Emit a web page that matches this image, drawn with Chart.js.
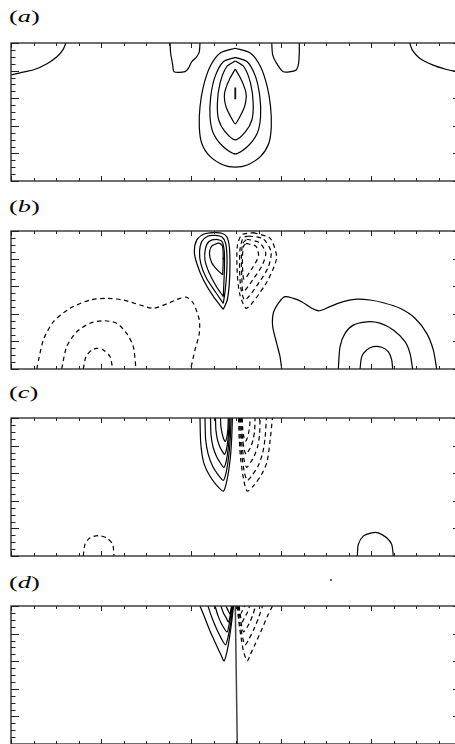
<!DOCTYPE html>
<html><head><meta charset="utf-8">
<script src="https://cdn.jsdelivr.net/npm/chart.js@4.4.1/dist/chart.umd.min.js"></script>
<style>
body{margin:0;width:455px;height:744px;overflow:hidden;background:#fff;position:relative}
canvas{position:absolute}
.lab{position:absolute;left:9px;font-family:"Liberation Serif","Times New Roman",serif;font-size:17px;line-height:17px;color:#000;white-space:nowrap;transform:scaleX(1.55);transform-origin:0 50%}
.dot{position:absolute;left:330px;top:579px;width:2px;height:2px;background:#666}
</style></head>
<body>
<div class="lab" style="top:8px">(<i>a</i>)</div>
<div class="lab" style="top:198px">(<i>b</i>)</div>
<div class="lab" style="top:384px">(<i>c</i>)</div>
<div class="lab" style="top:574px">(<i>d</i>)</div>
<div class="dot"></div>
<canvas id="pa" width="452" height="140" style="left:10px;top:42px"></canvas>
<canvas id="pb" width="452" height="140" style="left:10px;top:230px"></canvas>
<canvas id="pc" width="452" height="140" style="left:10px;top:417px"></canvas>
<canvas id="pd" width="452" height="140" style="left:10px;top:605px"></canvas>
<script>
// ---- axis tick values (no tick labels in the figure) ----
const xTicks = [0,0.25,0.5,0.75,1,1.25,1.5,1.75,2,2.25,2.5,2.75,3,3.25,3.5,3.75,4,4.25,4.5,4.75,5];
const yTicks = [0,0.25,0.5,0.75,1,1.25,1.5,1.75,2,2.25,2.5,2.75,3,3.25,3.5,3.75,4,4.25,4.5,4.75,5];
const xRange = [0,5];
const yRange = [0,5];

// ---- panel (a) contours ----
const aCornerL = [[0,3.84],[0.10,3.92],[0.26,4.04],[0.40,4.25],[0.51,4.50],[0.58,4.77],[0.61,5.0]];
const aCornerR = [[4.43,5.0],[4.46,4.74],[4.54,4.45],[4.69,4.20],[4.84,4.04],[4.91,3.99],[5.0,3.97]];
const aCapL = [[1.767,5.0],[1.774,4.63],[1.797,4.20],[1.811,3.96],[1.933,3.96],[1.97,4.08],[2.008,4.32],[2.063,4.50],[2.092,4.68],[2.10,5.0]];
const aCapR = [[2.897,5.0],[2.908,4.56],[2.952,4.26],[3.026,3.96],[3.156,4.0],[3.192,4.2],[3.203,4.63],[3.203,5.0]];
const aRing1 = [[2.492,4.81],[2.322,4.63],[2.211,4.14],[2.137,3.42],[2.10,2.69],[2.092,1.97],[2.119,1.37],[2.211,0.89],[2.359,0.58],[2.492,0.50],[2.625,0.58],[2.773,0.89],[2.865,1.37],[2.892,1.97],[2.884,2.69],[2.847,3.42],[2.773,4.14],[2.662,4.63],[2.492,4.81]];
const aRing2 = [[2.492,4.48],[2.359,4.32],[2.267,3.78],[2.219,3.05],[2.211,2.33],[2.248,1.73],[2.359,1.24],[2.492,0.98],[2.625,1.24],[2.736,1.73],[2.773,2.33],[2.765,3.05],[2.717,3.78],[2.625,4.32],[2.492,4.48]];
const aRing3 = [[2.492,4.35],[2.396,4.14],[2.322,3.54],[2.293,2.82],[2.308,2.21],[2.378,1.79],[2.492,1.49],[2.606,1.79],[2.676,2.21],[2.691,2.82],[2.662,3.54],[2.588,4.14],[2.492,4.35]];
const aRing4 = [[2.492,4.06],[2.433,3.72],[2.381,3.30],[2.37,3.05],[2.389,2.69],[2.441,2.33],[2.492,2.07],[2.543,2.33],[2.595,2.69],[2.614,3.05],[2.603,3.30],[2.551,3.72],[2.492,4.06]];
const aCore = [[2.492,3.39],[2.492,2.96]];

// ---- panel (b) contours ----
const bNegOuter = [[0.286,0],[0.359,1.05],[0.470,1.71],[0.656,2.20],[0.878,2.50],[1.063,2.56],[1.248,2.50],[1.433,2.32],[1.581,2.20],[1.730,2.36],[1.878,2.56],[1.952,2.60],[2.026,2.38],[2.092,1.78],[2.092,1.29],[2.044,0.69],[1.997,0]];
const bNegMid = [[0.563,0],[0.619,0.81],[0.730,1.35],[0.878,1.66],[1.026,1.75],[1.174,1.66],[1.286,1.29],[1.359,0.81],[1.389,0]];
const bNegInner = [[0.803,0],[0.833,0.45],[0.897,0.69],[0.952,0.75],[1.026,0.69],[1.10,0.45],[1.13,0]];
const bPosOuter = [[3.008,0],[2.989,0.45],[2.952,0.93],[2.908,1.53],[2.914,2.02],[2.970,2.38],[3.044,2.62],[3.137,2.56],[3.230,2.44],[3.341,2.20],[3.426,2.11],[3.544,2.26],[3.692,2.44],[3.841,2.53],[3.989,2.50],[4.137,2.40],[4.322,2.20],[4.489,1.84],[4.619,1.29],[4.692,0.69],[4.730,0]];
const bPosMid = [[3.637,0],[3.656,0.81],[3.711,1.29],[3.803,1.59],[3.952,1.71],[4.10,1.66],[4.248,1.41],[4.378,0.99],[4.433,0.57],[4.463,0]];
const bPosInner = [[3.878,0],[3.897,0.45],[3.952,0.69],[4.026,0.81],[4.119,0.79],[4.192,0.63],[4.230,0.33],[4.241,0]];
const bCellP0 = [[2.359,2.16],[2.248,2.63],[2.137,3.23],[2.063,3.84],[2.037,4.25],[2.063,4.67],[2.137,4.88],[2.248,4.94],[2.341,4.92],[2.397,4.79],[2.426,4.43],[2.433,3.83],[2.426,3.11],[2.403,2.50],[2.359,2.16]];
const bCellP1 = [[2.359,2.38],[2.270,2.80],[2.170,3.30],[2.110,3.80],[2.095,4.25],[2.120,4.62],[2.190,4.82],[2.270,4.84],[2.345,4.78],[2.385,4.55],[2.400,4.05],[2.395,3.40],[2.380,2.85],[2.359,2.38]];
const bCellP2 = [[2.359,2.62],[2.280,3.00],[2.200,3.50],[2.155,3.95],[2.160,4.35],[2.200,4.62],[2.280,4.70],[2.345,4.62],[2.370,4.25],[2.372,3.70],[2.365,3.10],[2.359,2.62]];
const bCellP3 = [[2.352,3.41],[2.290,3.60],[2.230,3.85],[2.205,4.20],[2.230,4.45],[2.310,4.56],[2.350,4.45],[2.358,4.00],[2.352,3.41]];
const bCellPDot = [[2.359,4.03],[2.361,3.97]];
const bCellN0 = [[2.692,4.94],[2.878,4.74],[2.952,4.07],[2.908,3.59],[2.822,3.04],[2.619,2.20],[2.544,2.68],[2.514,3.47],[2.514,4.43],[2.563,4.86],[2.692,4.94]];
const bCellN1 = [[2.640,4.82],[2.800,4.72],[2.890,4.25],[2.860,3.70],[2.760,3.15],[2.600,2.50],[2.555,2.90],[2.540,3.60],[2.545,4.35],[2.580,4.75],[2.640,4.82]];
const bCellN2 = [[2.620,4.70],[2.760,4.58],[2.830,4.20],[2.790,3.75],[2.690,3.25],[2.581,2.80],[2.565,3.30],[2.560,4.05],[2.575,4.55],[2.620,4.70]];
const bCellN3 = [[2.611,4.55],[2.720,4.45],[2.750,4.10],[2.680,3.65],[2.590,3.25],[2.574,3.60],[2.572,4.10],[2.585,4.45],[2.611,4.55]];

// ---- panel (c) contours ----
const cPos0 = [[2.100,5.00],[2.108,4.10],[2.140,3.40],[2.200,2.95],[2.280,2.58],[2.359,2.35],[2.400,2.75],[2.435,3.50],[2.452,4.25],[2.460,5.00]];
const cPos1 = [[2.156,5.00],[2.162,4.25],[2.190,3.70],[2.240,3.25],[2.300,2.95],[2.359,2.74],[2.392,3.05],[2.422,3.70],[2.438,4.35],[2.446,5.00]];
const cPos2 = [[2.217,5.00],[2.222,4.40],[2.245,3.95],[2.285,3.60],[2.325,3.38],[2.365,3.21],[2.392,3.45],[2.415,3.95],[2.428,4.50],[2.434,5.00]];
const cPos3 = [[2.272,5.00],[2.277,4.55],[2.295,4.20],[2.325,3.92],[2.350,3.78],[2.372,3.68],[2.393,3.85],[2.410,4.20],[2.420,4.60],[2.424,5.00]];
const cPos4 = [[2.328,5.00],[2.332,4.70],[2.345,4.45],[2.362,4.25],[2.380,4.15],[2.398,4.30],[2.410,4.60],[2.414,5.00]];
const cNeg0 = [[2.528,5.00],[2.536,4.25],[2.552,3.50],[2.586,2.75],[2.625,2.35],[2.704,2.58],[2.784,2.95],[2.844,3.40],[2.876,4.10],[2.905,5.00]];
const cNeg1 = [[2.540,5.00],[2.546,4.35],[2.562,3.70],[2.592,3.05],[2.625,2.74],[2.684,2.95],[2.744,3.25],[2.794,3.70],[2.822,4.25],[2.838,5.00]];
const cNeg2 = [[2.550,5.00],[2.556,4.50],[2.569,3.95],[2.592,3.45],[2.619,3.21],[2.659,3.38],[2.699,3.60],[2.739,3.95],[2.762,4.40],[2.767,5.00]];
const cNeg3 = [[2.560,5.00],[2.564,4.60],[2.575,4.20],[2.592,3.85],[2.612,3.68],[2.634,3.78],[2.659,3.92],[2.689,4.20],[2.707,4.55],[2.712,5.00]];
const cNeg4 = [[2.570,5.00],[2.575,4.60],[2.588,4.30],[2.604,4.15],[2.622,4.25],[2.639,4.45],[2.652,4.70],[2.656,5.00]];
const cNegArc = [[0.803,0],[0.822,0.42],[0.878,0.66],[0.970,0.74],[1.063,0.66],[1.130,0.42],[1.144,0]];
const cPosArc = [[3.848,0],[3.859,0.42],[3.914,0.72],[4.008,0.84],[4.081,0.84],[4.174,0.66],[4.230,0.42],[4.248,0]];

// ---- panel (d) contours ----
const dPos0 = [[2.100,5.00],[2.150,4.60],[2.210,4.10],[2.280,3.60],[2.330,3.25],[2.367,3.01],[2.400,3.35],[2.430,3.90],[2.455,4.50],[2.472,5.00]];
const dPos1 = [[2.189,5.00],[2.230,4.60],[2.280,4.20],[2.340,3.80],[2.383,3.59],[2.410,3.85],[2.440,4.35],[2.467,5.00]];
const dPos2 = [[2.267,5.00],[2.300,4.65],[2.340,4.35],[2.400,4.06],[2.425,4.35],[2.445,4.70],[2.461,5.00]];
const dPos3 = [[2.333,5.00],[2.360,4.75],[2.390,4.58],[2.417,4.42],[2.435,4.65],[2.456,5.00]];
const dPos4 = [[2.389,5.00],[2.410,4.85],[2.433,4.71],[2.443,4.85],[2.450,5.00]];
const dNeg0 = [[2.512,5.00],[2.529,4.50],[2.554,3.90],[2.584,3.35],[2.625,3.01],[2.660,3.25],[2.710,3.60],[2.780,4.10],[2.845,4.60],[2.905,5.00]];
const dNeg1 = [[2.517,5.00],[2.544,4.35],[2.574,3.85],[2.601,3.59],[2.644,3.80],[2.704,4.20],[2.754,4.60],[2.795,5.00]];
const dNeg2 = [[2.523,5.00],[2.539,4.70],[2.559,4.35],[2.584,4.06],[2.644,4.35],[2.684,4.65],[2.717,5.00]];
const dNeg3 = [[2.528,5.00],[2.549,4.65],[2.567,4.42],[2.594,4.58],[2.624,4.75],[2.651,5.00]];
const dNeg4 = [[2.534,5.00],[2.541,4.85],[2.551,4.71],[2.574,4.85],[2.595,5.00]];
const dZero = [[2.492,5.0],[2.514,0]];

// ---- grouping (solid = positive, dashed = negative) ----
const panelA = {solid:[aCornerL,aCornerR,aCapL,aCapR,aRing1,aRing2,aRing3,aRing4], thick:[aCore], grey:[], dashed:[]};
const panelB = {solid:[bPosOuter,bPosMid,bPosInner,bCellP0,bCellP1,bCellP2,bCellP3], thick:[bCellPDot], grey:[], dashed:[bNegOuter,bNegMid,bNegInner,bCellN0,bCellN1,bCellN2,bCellN3]};
const panelC = {solid:[cPos0,cPos1,cPos2,cPos3,cPos4,cPosArc], thick:[], grey:[], dashed:[cNeg0,cNeg1,cNeg2,cNeg3,cNeg4,cNegArc]};
const panelD = {solid:[dPos0,dPos1,dPos2,dPos3,dPos4], thick:[], grey:[dZero], dashed:[dNeg0,dNeg1,dNeg2,dNeg3,dNeg4]};

const frameTicks = {
  id:'frameTicks',
  afterDatasetsDraw(chart){
    const {ctx, chartArea:ca, scales:{x,y}} = chart;
    ctx.save();
    ctx.strokeStyle = '#222';
    ctx.lineWidth = 1.3;
    ctx.strokeRect(ca.left, ca.top, ca.right-ca.left, ca.bottom-ca.top);
    ctx.lineWidth = 1;
    ctx.beginPath();
    xTicks.forEach(v=>{
      const px = Math.round(x.getPixelForValue(v))+0.5;
      const len = Number.isInteger(v) ? 5 : 3;
      ctx.moveTo(px, ca.bottom); ctx.lineTo(px, ca.bottom-len);
      ctx.moveTo(px, ca.top); ctx.lineTo(px, ca.top+len);
    });
    yTicks.forEach(v=>{
      const py = Math.round(y.getPixelForValue(v))+0.5;
      const len = Number.isInteger(v) ? 8 : 4.5;
      ctx.moveTo(ca.left, py); ctx.lineTo(ca.left+len, py);
      ctx.moveTo(ca.right, py); ctx.lineTo(ca.right-len, py);
    });
    ctx.stroke();
    ctx.restore();
  }
};

function toPts(arr){ return arr.map(p=>({x:p[0], y:p[1]})); }
function makeChart(id, panel){
  const ds = [];
  panel.solid.forEach(c=>ds.push({data:toPts(c), borderColor:'#000', borderWidth:1.2, tension:0.25}));
  panel.dashed.forEach(c=>ds.push({data:toPts(c), borderColor:'#000', borderWidth:1.2, tension:0.25, borderDash:[4.5,3.5]}));
  panel.thick.forEach(c=>ds.push({data:toPts(c), borderColor:'#111', borderWidth:1.8, tension:0}));
  panel.grey.forEach(c=>ds.push({data:toPts(c), borderColor:'#444', borderWidth:1.5, tension:0}));
  new Chart(document.getElementById(id), {
    type:'scatter',
    data:{datasets:ds},
    options:{
      responsive:false, animation:false, devicePixelRatio:1,
      layout:{padding:1},
      showLine:true,
      elements:{point:{radius:0}, line:{fill:false}},
      plugins:{legend:{display:false}, tooltip:{enabled:false}},
      scales:{
        x:{type:'linear', min:xRange[0], max:xRange[1], display:false},
        y:{type:'linear', min:yRange[0], max:yRange[1], display:false}
      }
    },
    plugins:[frameTicks]
  });
}
makeChart('pa', panelA);
makeChart('pb', panelB);
makeChart('pc', panelC);
makeChart('pd', panelD);
</script>
</body></html>
